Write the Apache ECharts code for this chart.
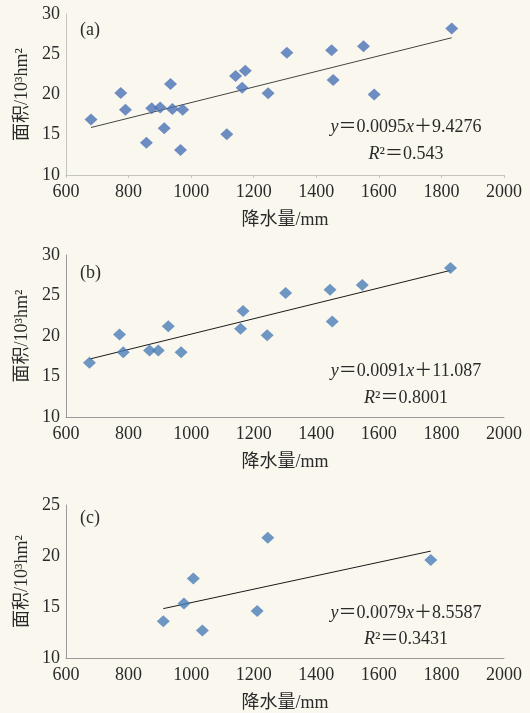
<!DOCTYPE html>
<html>
<head>
<meta charset="utf-8">
<script src="https://cdn.jsdelivr.net/npm/echarts@6/dist/echarts.min.js"></script>
<style>
  html, body { margin: 0; padding: 0; background: #faf8ee; }
  #main { width: 530px; height: 713px; }
</style>
</head>
<body>
<div id="main"></div>
<script>
// 降水量 (mm) 与 面积 (10^3 hm^2)
var xA = [680, 775, 790, 857, 874, 901, 914, 934, 940, 966, 973, 1114, 1142, 1163, 1173, 1246, 1306, 1449, 1454, 1551, 1585, 1833];
var yA = [16.9, 20.2, 18.1, 14.0, 18.3, 18.4, 15.8, 21.3, 18.2, 13.1, 18.1, 15.05, 22.3, 20.85, 22.96, 20.15, 25.2, 25.5, 21.8, 26.0, 20.0, 28.2];
var trendA = [[680, 15.9], [1833, 27.05]];

var xB = [675, 771, 783, 867, 895, 927, 968, 1158, 1166, 1243, 1302, 1444, 1451, 1547, 1829];
var yB = [16.7, 20.2, 18.0, 18.2, 18.2, 21.2, 18.0, 20.9, 23.1, 20.1, 25.3, 25.7, 21.8, 26.3, 28.4];
var trendB = [[675, 17.15], [1829, 28.1]];

var xC = [911, 977, 1007, 1036, 1211, 1245, 1766];
var yC = [13.6, 15.35, 17.8, 12.7, 14.6, 21.8, 19.6];
var trendC = [[911, 14.84], [1766, 20.48]];

var panelLabels = ['(a)', '(b)', '(c)'];
var equations = ['0.0095', '9.4276', '0.0091', '11.087', '0.0079', '8.5587'];
var r2 = ['0.543', '0.8001', '0.3431'];

var xRange = [600, 2000, 200];
var yRanges = [[10, 30, 5], [10, 30, 5], [10, 25, 5]];

var chartDom = document.getElementById('main');
var myChart = echarts.init(chartDom);
var option;

var FONT = "'Liberation Serif', 'Noto Sans CJK SC', serif";
var TEXT = '#2a2a2a';

function zip(xs, ys) {
  return xs.map(function (x, i) { return [x, ys[i]]; });
}

var grids = [
  { left: 66, right: 26, top: 14, height: 161 },
  { left: 66, right: 26, top: 255, height: 162 },
  { left: 66, right: 26, top: 505, height: 155 }
];

var xAxes = [], yAxes = [];
for (var i = 0; i < 3; i++) {
  xAxes.push({
    gridIndex: i,
    type: 'value',
    min: xRange[0], max: xRange[1], interval: xRange[2],
    name: '降水量/mm',
    nameLocation: 'middle',
    nameGap: 36,
    nameTextStyle: { fontFamily: FONT, fontSize: 18, color: TEXT },
    axisLine: { lineStyle: { color: i === 0 ? '#c4c4c0' : '#999999', width: 1 } },
    axisTick: { show: i === 0, length: 3, lineStyle: { color: '#c4c4c0' } },
    splitLine: { show: false },
    axisLabel: {
      fontFamily: FONT, fontSize: 18, color: TEXT, margin: 8,
      formatter: function (v) { return String(v); }
    }
  });
  yAxes.push({
    gridIndex: i,
    type: 'value',
    min: yRanges[i][0], max: yRanges[i][1], interval: yRanges[i][2],
    name: '面积/10³hm²',
    nameLocation: 'middle',
    nameGap: 35,
    nameTextStyle: { fontFamily: FONT, fontSize: 18, color: TEXT },
    axisLine: { show: true, lineStyle: { color: i === 0 ? '#c4c4c0' : '#999999', width: 1 } },
    axisTick: { show: false },
    splitLine: { show: false },
    axisLabel: { fontFamily: FONT, fontSize: 18, color: TEXT, margin: 6 }
  });
}

var scatterData = [zip(xA, yA), zip(xB, yB), zip(xC, yC)];
var trends = [trendA, trendB, trendC];
var series = [];
for (var k = 0; k < 3; k++) {
  series.push({
    type: 'line',
    xAxisIndex: k, yAxisIndex: k,
    data: trends[k],
    symbol: 'none',
    lineStyle: { color: k === 0 ? '#444' : '#1a1a1a', width: 1 },
    z: 2
  });
  series.push({
    type: 'scatter',
    xAxisIndex: k, yAxisIndex: k,
    data: scatterData[k],
    symbol: 'diamond',
    symbolSize: [13, 12],
    itemStyle: { color: k === 0 ? '#4a72b6' : '#4a7db8' },
    z: 3
  });
}

var labelY = [30, 273, 518];
var eqY = [127, 371, 613];
var rY = [154, 398, 639];
var rich = {
  i: { fontFamily: FONT, fontSize: 18, fontStyle: 'italic', fill: TEXT, color: TEXT },
  n: { fontFamily: FONT, fontSize: 18, fill: TEXT, color: TEXT }
};
var graphics = [];
for (var g = 0; g < 3; g++) {
  graphics.push({
    type: 'text', x: 80, y: labelY[g],
    style: { text: panelLabels[g], font: '18px ' + FONT, fill: TEXT, verticalAlign: 'middle' }
  });
  graphics.push({
    type: 'text', x: 406, y: eqY[g],
    style: {
      text: '{i|y}{n|＝' + equations[g * 2] + '}{i|x}{n|＋' + equations[g * 2 + 1] + '}',
      rich: rich, align: 'center', verticalAlign: 'middle', fill: TEXT
    }
  });
  graphics.push({
    type: 'text', x: 406, y: rY[g],
    style: {
      text: '{i|R}{n|²＝' + r2[g] + '}',
      rich: rich, align: 'center', verticalAlign: 'middle', fill: TEXT
    }
  });
}

option = {
  backgroundColor: '#faf8ee',
  animation: false,
  grid: grids,
  xAxis: xAxes,
  yAxis: yAxes,
  series: series,
  graphic: graphics
};

option && myChart.setOption(option);
</script>
</body>
</html>
